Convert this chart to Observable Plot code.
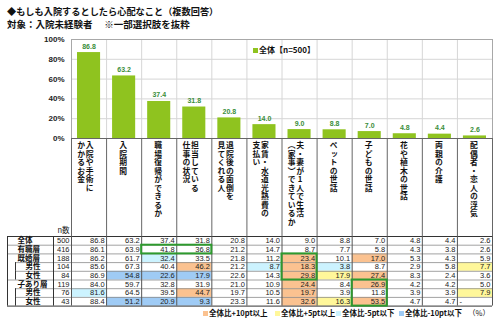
<!DOCTYPE html>
<html><head><meta charset="utf-8">
<script src="https://cdn.jsdelivr.net/npm/d3@7"></script>
<script src="https://cdn.jsdelivr.net/npm/@observablehq/plot@0.6"></script>
<style>
body{margin:0;background:#fff;font-family:"Noto Sans CJK JP",sans-serif;}
#wrap{position:relative;width:500px;height:323px;overflow:hidden;background:#fff;}
.abs{position:absolute;white-space:nowrap;}
.title{left:7px;font-weight:bold;color:#111;line-height:11px;}
.lg{font-weight:bold;font-size:7.5px;color:#111;line-height:10px;}
.sq{display:inline-block;width:5px;height:5px;margin-right:1px;vertical-align:0px;}
svg{position:absolute;left:0;}
</style></head><body><div id="wrap">
<div class="abs title" style="top:6px;font-size:9.2px">◆もしも入院するとしたら心配なこと（複数回答）</div>
<div class="abs title" style="top:19px;font-size:9.5px">対象：入院未経験者　 ※一部選択肢を抜粋</div>
</div>
<script>
// ---------- data ----------
const categories = ["入院や手術にかかるお金","入院期間","職場復帰ができるか","担当している仕事の状況","退院後の面倒を見てくれる人","家賃・水道光熱費の支払い","夫・妻が1人で生活（家事）できているか","ペットの世話","子どもの世話","花や植木の世話","両親の介護","配偶者・恋人の浮気"];
const catLines = [
  ["入院や手術に","かかるお金"],
  ["入院期間"],
  ["職場復帰ができるか"],
  ["担当している","仕事の状況"],
  ["退院後の面倒を","見てくれる人"],
  ["家賃・水道光熱費の","支払い"],
  ["夫・妻が1人で生活","（家事）できているか"],
  ["ペットの世話"],
  ["子どもの世話"],
  ["花や植木の世話"],
  ["両親の介護"],
  ["配偶者・恋人の浮気"]
];
const values = [86.8, 63.2, 37.4, 31.8, 20.8, 14.0, 9.0, 8.8, 7.0, 4.8, 4.4, 2.6];
const yTicks = [0, 20, 40, 60, 80, 100];
const seriesName = "全体【n=500】";

const rowLabels = ["全体","有職層","既婚層","男性","女性","子あり層","男性","女性"];
const rowSub = [false,false,false,true,true,false,true,true];
const rowN = [500,416,188,104,84,119,76,43];
const tableValues = [
  [86.8,63.2,37.4,31.8,20.8,14.0,9.0,8.8,7.0,4.8,4.4,2.6],
  [86.1,63.9,41.8,36.8,21.2,14.7,8.7,7.7,5.8,4.3,3.8,2.6],
  [86.2,61.7,32.4,33.5,21.8,11.2,23.4,10.1,17.0,5.3,4.3,5.9],
  [85.6,67.3,40.4,46.2,21.2,8.7,18.3,3.8,8.7,2.9,5.8,7.7],
  [86.9,54.8,22.6,17.9,22.6,14.3,29.8,17.9,27.4,8.3,2.4,3.6],
  [84.0,59.7,32.8,31.9,21.0,10.9,24.4,8.4,26.9,4.2,4.2,5.0],
  [81.6,64.5,39.5,44.7,19.7,10.5,19.7,3.9,11.8,3.9,3.9,7.9],
  [88.4,51.2,20.9,9.3,23.3,11.6,32.6,16.3,53.5,4.7,4.7,null]
];
// H: +10pt, h: +5pt, l: -5pt, L: -10pt
const cellCodes = [
  "............",
  "............",
  "..l...H.H...",
  "...H.lHl...h",
  ".LLL..HhH...",
  "......H.H...",
  "l..H..H....h",
  ".LLL..HhH..."
];
const boxes = [
  {r1:1, r2:1, c1:2, c2:3},
  {r1:2, r2:4, c1:6, c2:6},
  {r1:5, r2:7, c1:8, c2:8}
];
const legendCodes = ["H","h","l","L"];
const legendLabels = ["全体比+10pt以上","全体比+5pt以上","全体比-5pt以下","全体比-10pt以下"];
const legendColors = ["#fbc290","#fff79a","#ccf3ff","#9fcbf5"];

// ---------- layout ----------
const W = 500, ML = 71, MR = 8, FT = 6, PH = 99, MB = 98;
const n = categories.length;
const H1 = FT + PH + MB;
const yBottom = -100 * MB / PH;
const FONT_JP = "'Noto Sans CJK JP', sans-serif";
const FONT_NUM = "'Liberation Sans', Arial, sans-serif";

const bars = values.map((v, i) => ({i, c: categories[i], v}));
const labelData = [];
catLines.forEach((lines, i) => lines.forEach((s, j) => labelData.push({i, kind: lines.length === 1 ? "single" : (j === 0 ? "right" : "left"), text: s})));
const labelSet = new Set(labelData.map(d => d.text));
const vLabel = (kind, dx) => Plot.text(labelData.filter(d => d.kind === kind), {
  x: d => d.i + 0.5, y: 0, text: "text", dx, dy: 3, textAnchor: "start", lineAnchor: "bottom",
  fontSize: 7.8, fontWeight: "bold", fill: "#111", fontFamily: FONT_JP
});

const chart = Plot.plot({
  width: W, height: H1, marginLeft: ML, marginRight: MR, marginTop: FT, marginBottom: MB,
  x: {type: "linear", domain: [0, n], axis: null},
  y: {domain: [0, 100], axis: null},
  style: {background: "transparent", fontFamily: FONT_NUM, fontWeight: "bold"},
  marks: [
    Plot.gridY(yTicks.filter(t => t > 0 && t < 100), {stroke: "#d6d6d6", strokeOpacity: 1}),
    Plot.ruleX(d3.range(1, n), {y1: 0, y2: 100, stroke: "#d6d6d6"}),
    Plot.frame({stroke: "#a8a8a8"}),
    Plot.rectY(bars, {x1: d => d.i, x2: d => d.i + 1, y: "v", insetLeft: 6, insetRight: 6, fill: "#8fc31f"}),
    Plot.text(bars, {x: d => d.i + 0.5, y: "v", text: d => d.v.toFixed(1), dy: -4, lineAnchor: "bottom", fill: "#3a8e3a", fontSize: 7, fontWeight: "bold", fontFamily: FONT_NUM}),
    Plot.text(yTicks, {x: 0, y: d => d, text: d => d + "%", textAnchor: "end", dx: -7, fontSize: 8, fontWeight: "bold", fill: "#222", fontFamily: FONT_NUM}),
    Plot.ruleX(d3.range(0, n + 1), {y1: 0, y2: yBottom, stroke: "#666"}),
    Plot.ruleY([0], {stroke: "#666"}),
    vLabel("single", -1),
    vLabel("right", 0.5),
    vLabel("left", -8),
    Plot.text(["n数"], {x: 0, y: yBottom, dx: -2, dy: -6, textAnchor: "end", fontSize: 7.5, fontWeight: "normal", fill: "#111", fontFamily: FONT_JP})
  ]
});
d3.select(chart).selectAll("text")
  .filter(function() { return labelSet.has(this.textContent); })
  .style("writing-mode", "vertical-rl")
  .style("text-orientation", "upright")
  .style("letter-spacing", "0.7px");
chart.style.top = "33px";
document.getElementById("wrap").appendChild(chart);

// legend inside plot
const lg1 = document.createElement("div");
lg1.className = "abs";
lg1.style.cssText = "left:253px;top:45px;font-weight:bold;font-size:8px;color:#111;line-height:10px;";
lg1.innerHTML = `<span class="sq" style="background:#8fc31f;width:5px;height:5px"></span>${seriesName}`;
document.getElementById("wrap").appendChild(lg1);

// ---------- table ----------
const COL = (W - ML - MR) / n;
const TL = 7;
const xMin = -(ML - TL) / COL;
const xSub = -(ML - 15) / COL;
const xN = -(ML - 53) / COL;
const RH = 8.7, TT = 1, TB = 1.4;
const R = rowLabels.length;
const H2 = TT + RH * R + TB;

const rows = rowLabels.map((l, r) => ({r, l, sub: rowSub[r], n: rowN[r]}));
const cells = [];
tableValues.forEach((vals, r) => vals.forEach((v, c) => cells.push({r, c, v, code: cellCodes[r][c]})));

const table = Plot.plot({
  width: W, height: H2, marginLeft: TL, marginRight: MR, marginTop: TT, marginBottom: TB,
  x: {type: "linear", domain: [xMin, n], axis: null},
  y: {type: "linear", domain: [0, R], reverse: true, axis: null},
  color: {type: "ordinal", domain: legendCodes, range: legendColors},
  style: {background: "transparent", fontFamily: FONT_NUM},
  marks: [
    Plot.rect(cells.filter(d => d.code !== "."), {x1: "c", x2: d => d.c + 1, y1: "r", y2: d => d.r + 1, fill: "code"}),
    Plot.ruleY(d3.range(1, R), {x1: r => rowSub[r] ? xSub : xMin, x2: n, stroke: "#8a8a8a", strokeWidth: 0.8}),
    Plot.ruleY([0, R], {x1: xMin, x2: n, stroke: "#333"}),
    Plot.ruleX(d3.range(0, n + 1), {y1: 0, y2: R, stroke: "#555"}),
    Plot.ruleX([xMin, xN], {y1: 0, y2: R, stroke: "#333"}),
    Plot.ruleX(rows.filter(d => d.sub), {x: xSub, y1: "r", y2: d => d.r + 1, stroke: "#333"}),
    Plot.rect(boxes, {x1: "c1", x2: d => d.c2 + 1, y1: "r1", y2: d => d.r2 + 1, fill: "none", stroke: "#2e9a2e", strokeWidth: 2}),
    Plot.text(cells.filter(d => d.v != null), {x: d => d.c + 1, y: d => d.r + 0.5, text: d => d.v.toFixed(1), textAnchor: "end", dx: -2, fontSize: 7.5, fill: "#222"}),
    Plot.text(cells.filter(d => d.v == null), {x: "c", y: d => d.r + 0.5, text: () => "-", textAnchor: "start", dx: 2, fontSize: 7.5, fill: "#222"}),
    Plot.text(rows, {x: 0, y: d => d.r + 0.5, text: "n", textAnchor: "end", dx: -2, fontSize: 7.5, fill: "#222"}),
    Plot.text(rows, {x: d => d.sub ? xSub : xMin, y: d => d.r + 0.5, text: "l", textAnchor: "start", dx: 10, fontSize: 7.5, fontWeight: "bold", fill: "#111", fontFamily: FONT_JP})
  ]
});
table.style.top = "235px";
document.getElementById("wrap").appendChild(table);

// bottom legend
const lgLeft = [203, 275, 336, 399];
legendLabels.forEach((t, i) => {
  const d = document.createElement("div");
  d.className = "abs lg";
  d.style.left = lgLeft[i] + "px";
  d.style.top = "308px";
  d.innerHTML = `<span class="sq" style="background:${legendColors[i]}"></span>${t}`;
  document.getElementById("wrap").appendChild(d);
});
const pct = document.createElement("div");
pct.className = "abs lg";
pct.style.cssText += "left:468px;top:308px;font-weight:normal;";
pct.textContent = "（%）";
document.getElementById("wrap").appendChild(pct);
</script>
</body></html>
